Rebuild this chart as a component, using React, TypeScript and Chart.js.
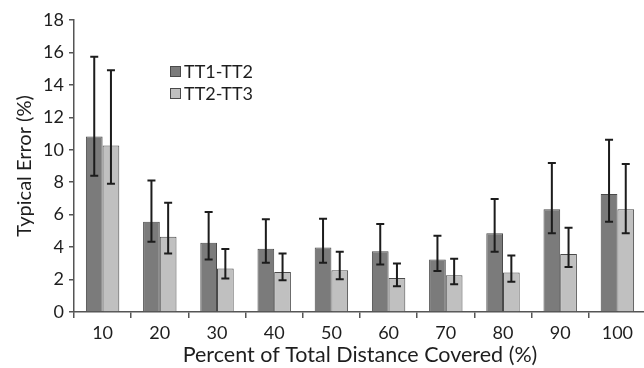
import React, { useEffect, useRef } from "react";
import { Chart, registerables } from "chart.js";

Chart.register(...registerables);

const categories = ["10", "20", "30", "40", "50", "60", "70", "80", "90", "100"];
const seriesLabels = ["TT1-TT2", "TT2-TT3"];
const tt12 = [10.82, 5.57, 4.27, 3.9, 3.98, 3.75, 3.24, 4.85, 6.33, 7.28];
const tt12Low = [8.4, 4.33, 3.24, 3.03, 3.03, 2.93, 2.52, 3.71, 4.85, 5.57];
const tt12High = [15.73, 8.1, 6.17, 5.71, 5.75, 5.42, 4.7, 6.97, 9.18, 10.62];
const tt23 = [10.27, 4.64, 2.68, 2.47, 2.58, 2.1, 2.27, 2.44, 3.57, 6.33];
const tt23Low = [7.9, 3.61, 2.06, 1.96, 2.02, 1.59, 1.71, 1.86, 2.78, 4.85];
const tt23High = [14.9, 6.74, 3.88, 3.61, 3.71, 2.99, 3.28, 3.49, 5.2, 9.13];
const yTicks = [0, 2, 4, 6, 8, 10, 12, 14, 16, 18];

const FONT = "Lato, 'Open Sans', sans-serif";
const TEXT = "#1e1e1e";
const AXIS = "#555";

const errorBarPlugin = {
  id: "errorBars",
  afterDatasetsDraw(chart: any) {
    const ctx = chart.ctx;
    const yScale = chart.scales.y;
    const lows = [tt12Low, tt23Low];
    const highs = [tt12High, tt23High];
    ctx.save();
    ctx.strokeStyle = "#1c1c1c";
    ctx.lineWidth = 2;
    chart.data.datasets.forEach((_ds: any, i: number) => {
      const meta = chart.getDatasetMeta(i);
      meta.data.forEach((el: any, j: number) => {
        const x = el.x;
        const yl = yScale.getPixelForValue(lows[i][j]);
        const yh = yScale.getPixelForValue(highs[i][j]);
        const cap = 4;
        ctx.beginPath();
        ctx.moveTo(x, yl);
        ctx.lineTo(x, yh);
        ctx.moveTo(x - cap, yl);
        ctx.lineTo(x + cap, yl);
        ctx.moveTo(x - cap, yh);
        ctx.lineTo(x + cap, yh);
        ctx.stroke();
      });
    });
    ctx.restore();
  },
};

const legendPlugin = {
  id: "customLegend",
  afterDraw(chart: any) {
    const ctx = chart.ctx;
    ctx.save();
    const x0 = 170;
    const y0 = 66;
    chart.data.datasets.forEach((ds: any, i: number) => {
      const y = y0 + i * 22;
      ctx.fillStyle = ds.backgroundColor;
      ctx.fillRect(x0, y, 10, 10);
      ctx.strokeStyle = ds.borderColor;
      ctx.lineWidth = 1;
      ctx.strokeRect(x0 + 0.5, y + 0.5, 10, 10);
      ctx.fillStyle = TEXT;
      ctx.font = `18px ${FONT}`;
      ctx.textBaseline = "middle";
      ctx.textAlign = "left";
      ctx.fillText(ds.label, x0 + 14, y + 6);
    });
    ctx.restore();
  },
};

export default function App() {
  const ref = useRef<HTMLCanvasElement | null>(null);
  useEffect(() => {
    if (!ref.current) return;
    const chart = new Chart(ref.current, {
      type: "bar",
      data: {
        labels: categories,
        datasets: [
          {
            label: seriesLabels[0],
            data: tt12,
            backgroundColor: "#7b7b7b",
            borderColor: "#4a4a4a",
            borderWidth: 1,
            categoryPercentage: 0.584,
            barPercentage: 1,
          },
          {
            label: seriesLabels[1],
            data: tt23,
            backgroundColor: "#c0c0c0",
            borderColor: "#4a4a4a",
            borderWidth: 1,
            categoryPercentage: 0.584,
            barPercentage: 1,
          },
        ],
      },
      options: {
        responsive: false,
        animation: false,
        devicePixelRatio: 1,
        layout: { padding: { top: 20, right: 4, left: 0, bottom: 0 } },
        plugins: {
          legend: { display: false },
          tooltip: { enabled: false },
        },
        scales: {
          x: {
            grid: {
              display: true,
              drawOnChartArea: false,
              drawTicks: true,
              tickLength: 6,
              color: AXIS,
              lineWidth: 1.5,
              offset: true,
            },
            border: { display: true, color: AXIS, width: 1.5 },
            ticks: {
              color: TEXT,
              font: { family: FONT, size: 18 },
              padding: 4,
            },
            title: {
              display: true,
              text: "Percent of Total Distance Covered (%)",
              color: TEXT,
              font: { family: FONT, size: 21.5 },
              padding: { top: 0, bottom: 0 },
            },
            afterFit(scale: any) {
              scale.height = 56;
            },
          },
          y: {
            min: 0,
            max: 18,
            afterBuildTicks(scale: any) {
              scale.ticks = yTicks.map((v) => ({ value: v }));
            },
            grid: {
              display: true,
              drawOnChartArea: false,
              drawTicks: true,
              tickLength: 5,
              color: AXIS,
              lineWidth: 1.5,
            },
            border: { display: true, color: AXIS, width: 1.5 },
            ticks: {
              color: TEXT,
              font: { family: FONT, size: 18 },
              padding: 5,
            },
            title: {
              display: true,
              text: "Typical Error (%)",
              color: TEXT,
              font: { family: FONT, size: 20 },
              padding: { top: 13, bottom: 0 },
            },
            afterFit(scale: any) {
              scale.width = 74;
            },
          },
        },
      },
      plugins: [errorBarPlugin, legendPlugin],
    });
    return () => chart.destroy();
  }, []);
  return (
    <div
      style={{
        position: "absolute",
        left: 0,
        top: 0,
        width: 644,
        height: 368,
        overflow: "hidden",
        background: "#fff",
      }}
    >
      <canvas ref={ref} width={650} height={368} style={{ width: 650, height: 368, display: "block" }} />
    </div>
  );
}
